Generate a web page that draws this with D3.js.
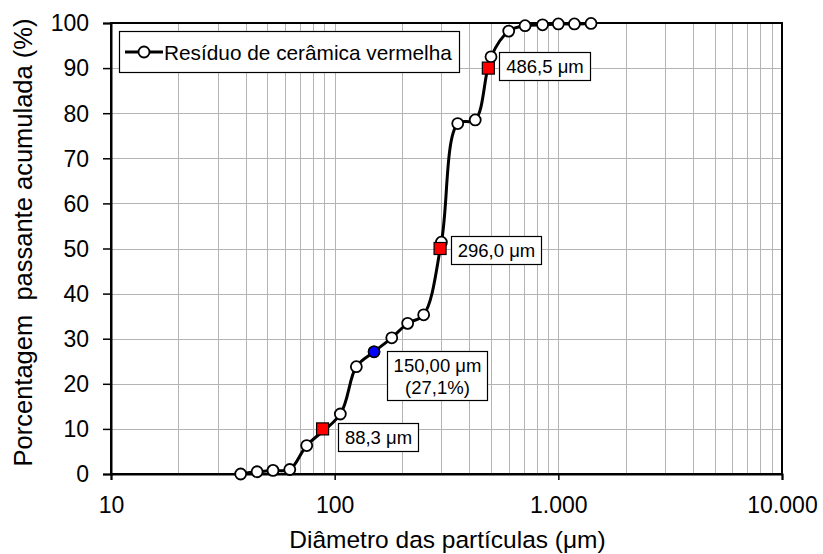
<!DOCTYPE html>
<html>
<head>
<meta charset="utf-8">
<script src="https://cdn.jsdelivr.net/npm/d3@7/dist/d3.min.js"></script>
<style>
  html, body { margin: 0; padding: 0; background: #fff; }
  svg { display: block; font-family: "Liberation Sans", Arial, sans-serif; }
</style>
</head>
<body>
<svg id="chart" width="823" height="554"></svg>
<script>
// Cumulative passing curve: sieve opening (µm) and % passing
const diameters = [38, 45, 53, 63, 75, 106, 125, 150, 180, 212, 250, 300, 355, 425, 500, 600, 710, 850, 1000, 1180, 1400];
const passing   = [0.0, 0.5, 0.8, 1.0, 6.3, 13.3, 23.8, 27.1, 30.2, 33.4, 35.3, 51.4, 77.7, 78.5, 92.5, 98.2, 99.4, 99.6, 99.8, 99.8, 99.9];

// Characteristic diameters D10, D50, D90
const charDiam  = [88.3, 296.0, 486.5];
const charPass  = [10, 50, 90];
const charText  = ["88,3 μm", "296,0 μm", "486,5 μm"];

// Highlighted point
const highlightDiam = 150.0;
const highlightPass = 27.1;
const highlightText = ["150,00 μm", "(27,1%)"];

const xTicks = [10, 100, 1000, 10000];
const xTickLabels = ["10", "100", "1.000", "10.000"];
const yTicks = [0, 10, 20, 30, 40, 50, 60, 70, 80, 90, 100];
const seriesName = "Resíduo de cerâmica vermelha";

const svg = d3.select("#chart");
const m = { left: 111, right: 782, top: 23, bottom: 474 };

const x = d3.scaleLog().domain([10, 10000]).range([m.left, m.right]);
const y = d3.scaleLinear().domain([0, 100]).range([m.bottom, m.top]);

// Minor log gridlines plus the inner decades
const minor = [];
for (let d = 10; d < 10000; d *= 10) {
  for (let k = 2; k <= 9; k++) minor.push(d * k);
}
minor.push(...xTicks.slice(1, 3));

const grid = svg.append("g").attr("stroke", "#b4b4b4").attr("stroke-width", 1);
grid.selectAll(".vg").data(minor).join("line")
  .attr("x1", d => Math.round(x(d)) + 0.5).attr("x2", d => Math.round(x(d)) + 0.5)
  .attr("y1", m.top).attr("y2", m.bottom);
grid.selectAll(".hg").data(yTicks.slice(1, -1)).join("line")
  .attr("x1", m.left).attr("x2", m.right)
  .attr("y1", d => Math.round(y(d)) + 0.5).attr("y2", d => Math.round(y(d)) + 0.5);

// Frame
svg.append("rect")
  .attr("x", m.left).attr("y", m.top)
  .attr("width", m.right - m.left).attr("height", m.bottom - m.top)
  .attr("fill", "none").attr("stroke", "#000").attr("stroke-width", 2);

// Axes
const yAxis = d3.axisLeft(y).tickValues(yTicks).tickSize(8).tickPadding(14).tickFormat(d => d);
const gy = svg.append("g").attr("transform", `translate(${m.left},0)`).call(yAxis);
gy.select(".domain").attr("stroke-width", 2);
gy.selectAll(".tick line").attr("stroke-width", 1.5);
gy.selectAll("text").attr("font-size", 23).attr("fill", "#000").attr("dy", "0.34em");

const xAxis = d3.axisBottom(x).tickValues(xTicks).tickSize(6).tickPadding(8)
  .tickFormat((d, i) => xTickLabels[i]);
const gx = svg.append("g").attr("transform", `translate(0,${m.bottom})`).call(xAxis);
gx.select(".domain").attr("stroke-width", 2);
gx.selectAll(".tick line").attr("stroke-width", 1.5);
gx.selectAll("text").attr("font-size", 23).attr("fill", "#000").attr("dy", "0.71em").attr("y", 23);
svg.selectAll(".domain").attr("stroke", "#000");

// Axis titles
svg.append("text")
  .attr("x", (m.left + m.right) / 2 + 1).attr("y", 548)
  .attr("text-anchor", "middle").attr("font-size", 24.5).attr("fill", "#000")
  .text("Diâmetro das partículas (μm)");
svg.append("text")
  .attr("transform", `translate(32,${(m.top + m.bottom) / 2 - 6}) rotate(-90)`)
  .attr("text-anchor", "middle").attr("font-size", 25.5).attr("fill", "#000")
  .attr("xml:space", "preserve")
  .text("Porcentagem  passante acumulada (%)");

// Curve
const pts = diameters.map((d, i) => [d, passing[i]]);
const line = d3.line().x(d => x(d[0])).y(d => y(d[1])).curve(d3.curveCatmullRom.alpha(0.5));
svg.append("path").datum(pts).attr("d", line)
  .attr("fill", "none").attr("stroke", "#000").attr("stroke-width", 3);

svg.append("g").selectAll("circle").data(pts).join("circle")
  .attr("cx", d => x(d[0])).attr("cy", d => y(d[1])).attr("r", 5.5)
  .attr("fill", "#fff").attr("stroke", "#000").attr("stroke-width", 1.8);

// Highlight point
svg.append("circle")
  .attr("cx", x(highlightDiam)).attr("cy", y(highlightPass)).attr("r", 5.5)
  .attr("fill", "#0000ff").attr("stroke", "#000").attr("stroke-width", 1.5);

// Characteristic diameter markers
svg.append("g").selectAll("rect").data(charDiam).join("rect")
  .attr("x", d => x(d) - 6).attr("y", (d, i) => y(charPass[i]) - 6)
  .attr("width", 12).attr("height", 12)
  .attr("fill", "#ff0000").attr("stroke", "#000").attr("stroke-width", 1.2);

// Label boxes (offsets relative to each marker)
function labelBox(px, py, w, h, lines) {
  const g = svg.append("g");
  g.append("rect").attr("x", px).attr("y", py).attr("width", w).attr("height", h)
    .attr("fill", "#fff").attr("stroke", "#000").attr("stroke-width", 1.2);
  lines.forEach((t, i) => {
    g.append("text").attr("x", px + w / 2).attr("y", py + 20.5 + i * 22)
      .attr("text-anchor", "middle").attr("font-size", 18.5).attr("fill", "#000").text(t);
  });
}
const boxLayout = [
  { dx: 15, dy: -6, w: 80 },
  { dx: 11, dy: -13, w: 90 },
  { dx: 11, dy: -16, w: 91 }
];
charDiam.forEach((d, i) => {
  const b = boxLayout[i];
  labelBox(Math.round(x(d) + b.dx) + 0.5, Math.round(y(charPass[i]) + b.dy) + 0.5, b.w, 28, [charText[i]]);
});
labelBox(Math.round(x(highlightDiam) + 13) + 0.5, Math.round(y(highlightPass) - 1) + 0.5, 100, 49, highlightText);

// Legend
const lg = svg.append("g");
lg.append("rect").attr("x", 119.5).attr("y", 31.5).attr("width", 340).attr("height", 41)
  .attr("fill", "#fff").attr("stroke", "#000").attr("stroke-width", 1.2);
lg.append("line").attr("x1", 125).attr("x2", 163).attr("y1", 52).attr("y2", 52)
  .attr("stroke", "#000").attr("stroke-width", 3);
lg.append("circle").attr("cx", 144).attr("cy", 52).attr("r", 5.5)
  .attr("fill", "#fff").attr("stroke", "#000").attr("stroke-width", 1.8);
lg.append("text").attr("x", 164).attr("y", 59.5).attr("font-size", 20.8).attr("fill", "#000")
  .text(seriesName);
</script>
</body>
</html>
